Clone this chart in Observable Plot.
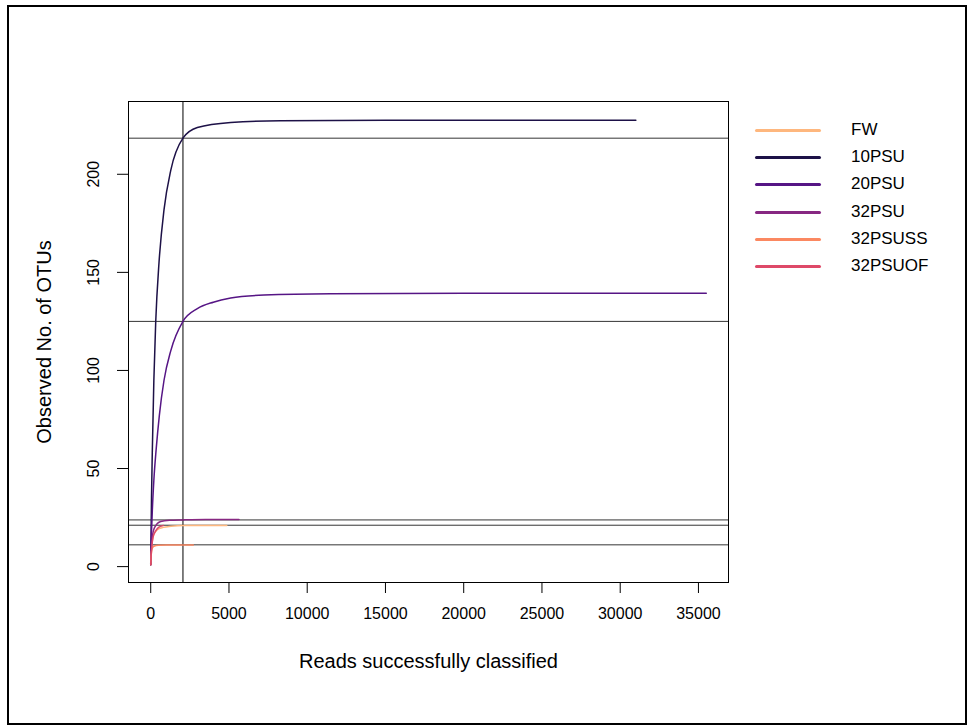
<!DOCTYPE html>
<html>
<head>
<meta charset="utf-8">
<script src="https://cdn.jsdelivr.net/npm/d3@7"></script>
<script src="https://cdn.jsdelivr.net/npm/@observablehq/plot@0.6"></script>
<style>
  html, body { margin: 0; padding: 0; background: #fff; }
  #wrap { position: relative; width: 969px; height: 726px; font-family: "Liberation Sans", Arial, sans-serif; }
  #frame { position: absolute; left: 7px; top: 5px; width: 956px; height: 716px; border: 2px solid #000; pointer-events: none; }
  #legend { position: absolute; left: 755px; top: 117px; }
  .lg { position: absolute; left: 0; height: 27px; width: 200px; }
  .lg .sw { position: absolute; left: 0; top: 12px; width: 66px; height: 3px; border-radius: 2px; }
  .lg .tx { position: absolute; left: 96px; top: 3px; font-size: 17px; color: #000; white-space: nowrap; }
</style>
</head>
<body>
<div id="wrap">
  <div id="chart"></div>
  <div id="legend"></div>
  <div id="frame"></div>
</div>
<script>
// ---- data ----
const sites = ["FW", "10PSU", "20PSU", "32PSU", "32PSUSS", "32PSUOF"];
const siteColors = ["#FEB77E", "#1D1147", "#561585", "#872882", "#FB8861", "#DE4968"];

const fwReads = [0, 40, 100, 200, 425, 800, 1300, 2060, 3000, 4860];
const fwOTUs  = [1, 8, 13, 16.5, 18.8, 20.0, 20.6, 21.0, 21.0, 21.0];

const psu10Reads = [0, 50, 100, 200, 320, 530, 850, 1280, 2060, 2980, 5110, 8300, 15000, 31000];
const psu10OTUs  = [1, 35, 58, 95, 125, 155, 182, 202, 218.4, 223.8, 226.4, 227.3, 227.5, 227.6];

const psu20Reads = [0, 30, 100, 200, 350, 550, 850, 1280, 2060, 2980, 4000, 5110, 7240, 11500, 20000, 35500];
const psu20OTUs  = [1, 12, 28, 44, 60, 77, 95, 110, 125, 131.5, 134.8, 136.9, 138.4, 139.1, 139.3, 139.3];

const psu32Reads = [0, 40, 100, 250, 640, 1200, 2060, 3500, 5640];
const psu32OTUs  = [1, 9, 15, 20, 23, 23.6, 23.8, 24, 24];

const psu32ssReads = [0, 30, 80, 200, 500, 1000, 2060, 2720];
const psu32ssOTUs  = [1, 6, 9, 10.4, 10.9, 11, 11, 11];

const psu32ofReads = [0, 30, 80, 150, 300, 500, 800];
const psu32ofOTUs  = [1, 6, 11, 15, 18, 20, 21];

const sampleSize = 2060;
const rarefiedAtSample = [218.4, 125.0, 23.8, 21.1, 11.1];

const xTicks = [0, 5000, 10000, 15000, 20000, 25000, 30000, 35000];
const yTicks = [0, 50, 100, 150, 200];

// ---- build table ----
const readsBySite = [fwReads, psu10Reads, psu20Reads, psu32Reads, psu32ssReads, psu32ofReads];
const otusBySite  = [fwOTUs, psu10OTUs, psu20OTUs, psu32OTUs, psu32ssOTUs, psu32ofOTUs];
const rows = [];
sites.forEach((s, i) => {
  readsBySite[i].forEach((r, j) => rows.push({site: s, reads: r, otus: otusBySite[i][j]}));
});

const chart = Plot.plot({
  width: 969,
  height: 726,
  marginLeft: 128,
  marginRight: 241,
  marginTop: 101,
  marginBottom: 144,
  style: {fontFamily: "'Liberation Sans', Arial, sans-serif", fontSize: "16px", background: "#fff"},
  x: {domain: [-1420, 36920]},
  y: {domain: [-8.1, 237.1]},
  color: {domain: sites, range: siteColors},
  marks: [
    Plot.ruleY(rarefiedAtSample, {stroke: "#000", strokeWidth: 0.8}),
    Plot.ruleX([sampleSize], {stroke: "#000", strokeWidth: 1}),
    Plot.line(rows, {x: "reads", y: "otus", z: "site", stroke: "site", strokeWidth: 1.5, curve: "monotone-x"}),
    Plot.frame({stroke: "#000", strokeWidth: 1}),
    Plot.axisX({ticks: xTicks, tickFormat: d => String(d), tickSize: 11, tickPadding: 14, fontSize: 16, label: null, stroke: "#000"}),
    Plot.axisY({ticks: yTicks, tickFormat: () => "", tickSize: 11, label: null, stroke: "#000"}),
    Plot.text(yTicks, {y: d => d, text: d => String(d), frameAnchor: "left", dx: -35, rotate: -90, textAnchor: "middle", fontSize: 16, fill: "#000"}),
    Plot.text(["Reads successfully classified"], {text: d => d, frameAnchor: "bottom", dy: 85, textAnchor: "middle", fontSize: 20, fill: "#000"}),
    Plot.text(["Observed No. of OTUs"], {text: d => d, frameAnchor: "left", dx: -84, rotate: -90, textAnchor: "middle", fontSize: 20, fill: "#000"})
  ]
});
document.getElementById("chart").appendChild(chart);

// legend
const lg = document.getElementById("legend");
sites.forEach((s, i) => {
  const d = document.createElement("div");
  d.className = "lg";
  d.style.top = (i * 27.2) + "px";
  d.innerHTML = `<div class="sw" style="background:${siteColors[i]}"></div><div class="tx">${s}</div>`;
  lg.appendChild(d);
});
</script>
</body>
</html>
